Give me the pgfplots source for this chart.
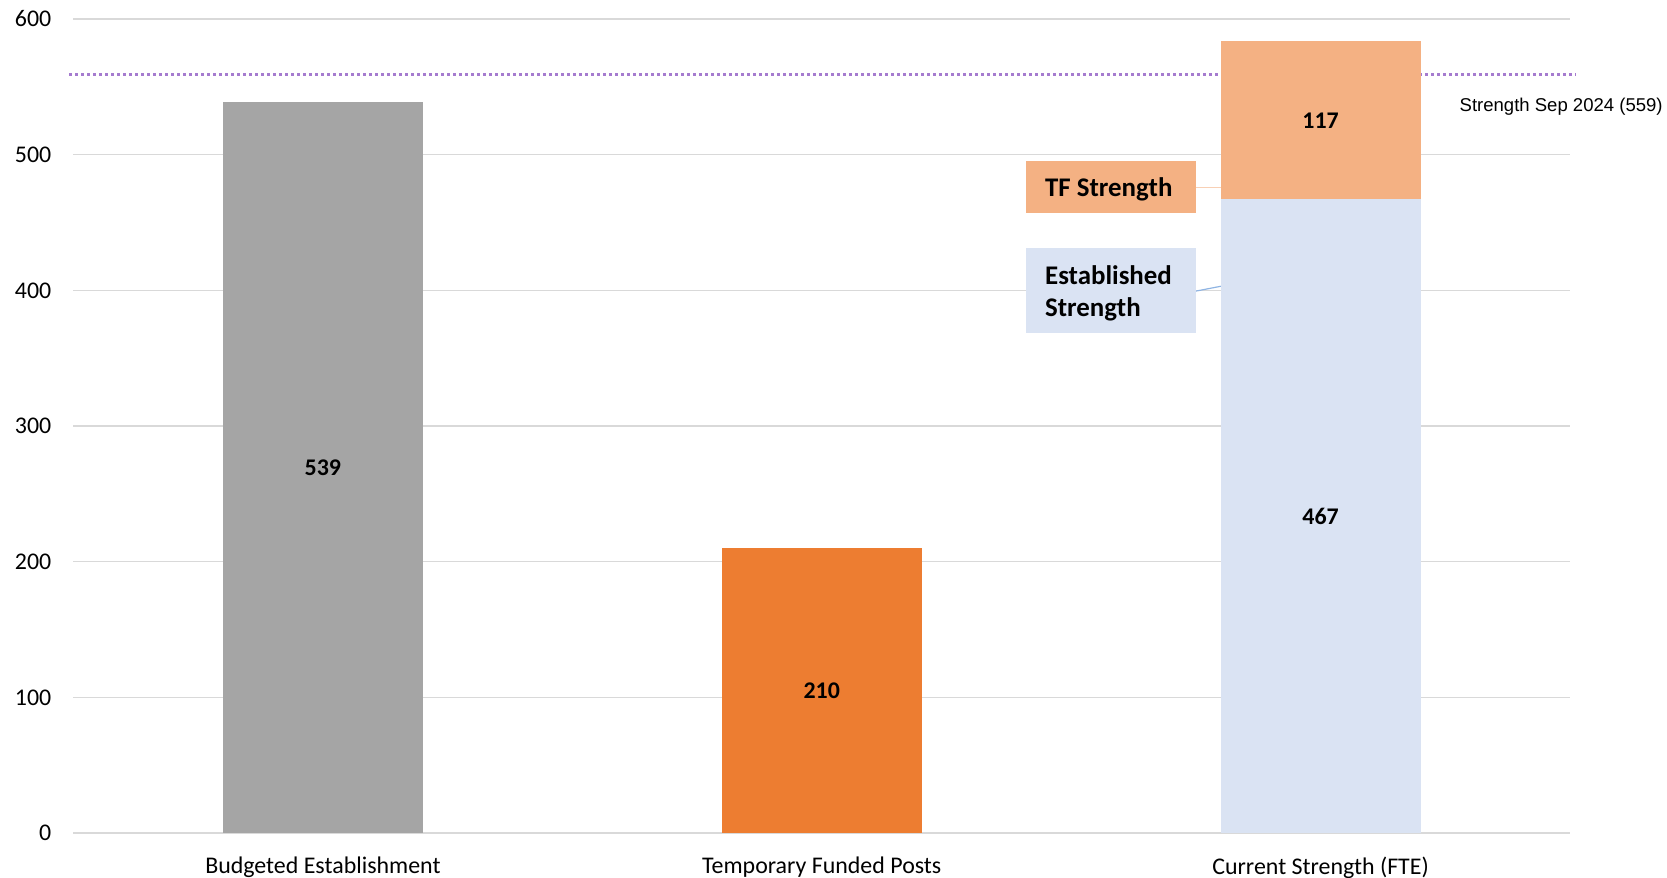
\documentclass[border=0pt]{standalone}
\usepackage{pgfplots}
\pgfplotsset{compat=1.18}
\usepackage{fontspec}
\setmainfont{Carlito}
\newfontfamily\arial{Liberation Sans}
\definecolor{cgrey}{HTML}{A5A5A5}
\definecolor{corange}{HTML}{ED7D31}
\definecolor{clblue}{HTML}{DAE3F3}
\definecolor{clorange}{HTML}{F4B183}
\definecolor{cpurple}{HTML}{A57BCF}
\definecolor{cgrid}{HTML}{D9D9D9}
\definecolor{cline}{HTML}{8FB4E3}
\begin{document}
\begin{tikzpicture}
\useasboundingbox (-36.75bp,-22.5bp) rectangle (796.75bp,416.5bp);
\begin{axis}[
  at={(0,0)}, anchor=south west,
  scale only axis,
  width=748.25bp, height=407bp,
  xmin=-0.5, xmax=2.5, ymin=0, ymax=600,
  ybar stacked, bar width=100bp,
  xtick={0,1,2},
  xticklabels={Budgeted Establishment, Temporary Funded Posts, Current Strength (FTE)},
  ytick={0,100,...,600},
  ymajorgrids,
  grid style={cgrid, line width=0.8bp},
  axis line style={draw=none},
  major tick style={draw=none},
  tick label style={font=\fontsize{12}{14}\selectfont, text=black},
  xticklabel style={yshift=-8.5bp},
  yticklabel style={xshift=-7.6bp},
  /pgf/number format/assume math mode=true,
  clip=false,
]
\addplot[fill=cgrey, draw=none] coordinates {(0,539) (1,0) (2,0)};
\addplot[fill=corange, draw=none] coordinates {(0,0) (1,210) (2,0)};
\addplot[fill=clblue, draw=none] coordinates {(0,0) (1,0) (2,467)};
\addplot[fill=clorange, draw=none] coordinates {(0,0) (1,0) (2,117)};
\addplot[stack plots=false, sharp plot, no marks, cpurple, line width=1.35bp, dash pattern=on 1.4bp off 1.6bp, forget plot] coordinates {(-0.509,559) (2.513,559)};
\coordinate (l539) at (axis cs:0,269.5);
\coordinate (l210) at (axis cs:1,105);
\coordinate (l467) at (axis cs:2,233.5);
\coordinate (l117) at (axis cs:2,525);
\coordinate (lref) at (axis cs:2.278,535);
\coordinate (tfA) at (axis cs:1.409,456.9);
\coordinate (tfB) at (axis cs:1.7495,495.2);
\coordinate (esA) at (axis cs:1.409,368.5);
\coordinate (esB) at (axis cs:1.7495,431.1);
\coordinate (tfL1) at (axis cs:1.7495,476);
\coordinate (tfL2) at (axis cs:1.8,476);
\coordinate (esL1) at (axis cs:1.7495,399.4);
\coordinate (esL2) at (axis cs:1.8,403);
\coordinate (tfT) at (axis cs:1.447,474.4);
\coordinate (esT) at (axis cs:1.447,397.9);
\end{axis}
\node[font=\fontsize{12}{14}\selectfont\bfseries] at (l539) {539};
\node[font=\fontsize{12}{14}\selectfont\bfseries] at (l210) {210};
\node[font=\fontsize{12}{14}\selectfont\bfseries] at (l467) {467};
\node[font=\fontsize{12}{14}\selectfont\bfseries] at (l117) {117};
\node[anchor=west, inner sep=0pt, font=\arial\fontsize{9.3}{11}\selectfont] at (lref) {Strength Sep 2024 (559)};
\draw[draw=clorange!60, line width=0.6bp] (tfL1) -- (tfL2);
\draw[draw=cline, line width=0.6bp] (esL1) -- (esL2);
\fill[clorange] (tfA) rectangle (tfB);
\fill[clblue] (esA) rectangle (esB);
\node[anchor=west, inner sep=0pt, font=\fontsize{13.5}{16}\selectfont\bfseries] at (tfT) {TF Strength};
\node[anchor=west, inner sep=0pt, align=left, font=\fontsize{13.5}{15.8}\selectfont\bfseries] at (esT) {Established\\Strength};
\end{tikzpicture}
\end{document}
